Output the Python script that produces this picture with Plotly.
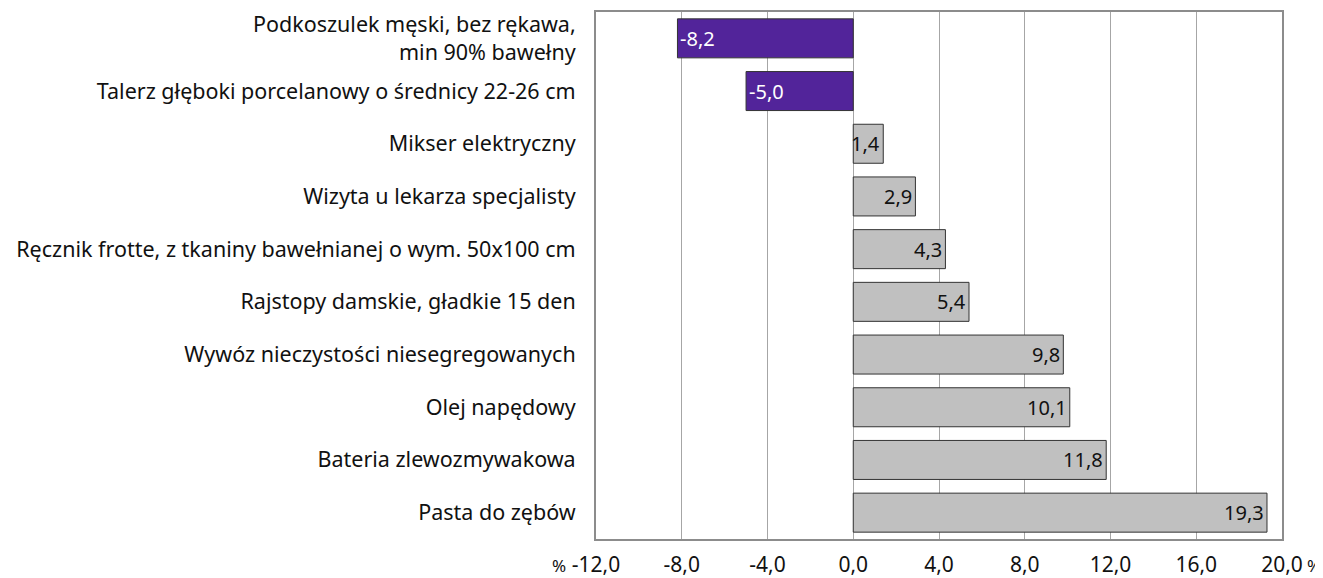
import plotly.graph_objects as go

categories = [
    "Podkoszulek męski, bez rękawa,<br>min 90% bawełny",
    "Talerz głęboki porcelanowy o średnicy 22-26 cm",
    "Mikser elektryczny",
    "Wizyta u lekarza specjalisty",
    "Ręcznik frotte, z tkaniny bawełnianej o wym. 50x100 cm",
    "Rajstopy damskie, gładkie 15 den",
    "Wywóz nieczystości niesegregowanych",
    "Olej napędowy",
    "Bateria zlewozmywakowa",
    "Pasta do zębów",
]
values = [-8.2, -5.0, 1.4, 2.9, 4.3, 5.4, 9.8, 10.1, 11.8, 19.3]
tick_vals = [-12, -8, -4, 0, 4, 8, 12, 16, 20]
tick_text = [f"{v:.1f}".replace(".", ",") for v in tick_vals]

FONT = "Noto Sans"
FS = 21.5
TXT = "#111111"
PURPLE = "#52249A"
GREY = "#C0C0C0"

colors = [PURPLE if v < 0 else GREY for v in values]

fig = go.Figure(go.Bar(
    x=values,
    y=categories,
    orientation="h",
    marker=dict(color=colors, line=dict(color="#333333", width=1)),
    hoverinfo="x+y",
))

annotations = []
for cat, v in zip(categories, values):
    annotations.append(dict(
        x=v, y=cat, xref="x", yref="y",
        text=f"{v:.1f}".replace(".", ","),
        showarrow=False,
        xanchor="left" if v < 0 else "right",
        xshift=1 if v < 0 else -1,
        yanchor="middle",
        font=dict(family=FONT, size=20, color="white" if v < 0 else TXT),
    ))

annotations += [
    dict(text="%", xref="paper", yref="paper", x=0, y=0, xshift=-37, yshift=-26,
         showarrow=False, xanchor="center", yanchor="middle",
         font=dict(family=FONT, size=17, color=TXT)),
    dict(text="%", xref="paper", yref="paper", x=1, y=0, xshift=32, yshift=-26,
         showarrow=False, xanchor="center", yanchor="middle",
         font=dict(family=FONT, size=17, color=TXT)),
]

fig.update_layout(
    width=1315, height=570,
    margin=dict(l=588, r=41, t=4, b=39),
    paper_bgcolor="white", plot_bgcolor="white",
    bargap=0.26,
    showlegend=False,
    font=dict(family=FONT, size=FS, color=TXT),
    xaxis=dict(
        range=[-12, 20],
        tickvals=tick_vals,
        ticktext=tick_text,
        automargin=False,
        showgrid=True, gridcolor="#A6A6A6", gridwidth=1,
        zeroline=False,
        showline=True, linecolor="#8C8C8C", linewidth=2, mirror=True,
        ticks="", ticklabelstandoff=6,
        tickfont=dict(family=FONT, size=21, color=TXT),
    ),
    yaxis=dict(
        autorange="reversed",
        automargin=False,
        showline=True, linecolor="#8C8C8C", linewidth=2, mirror=True,
        ticks="", ticklabelstandoff=14,
        tickfont=dict(family=FONT, size=FS, color=TXT),
    ),
    annotations=annotations,
)

fig.write_html("out.html")
